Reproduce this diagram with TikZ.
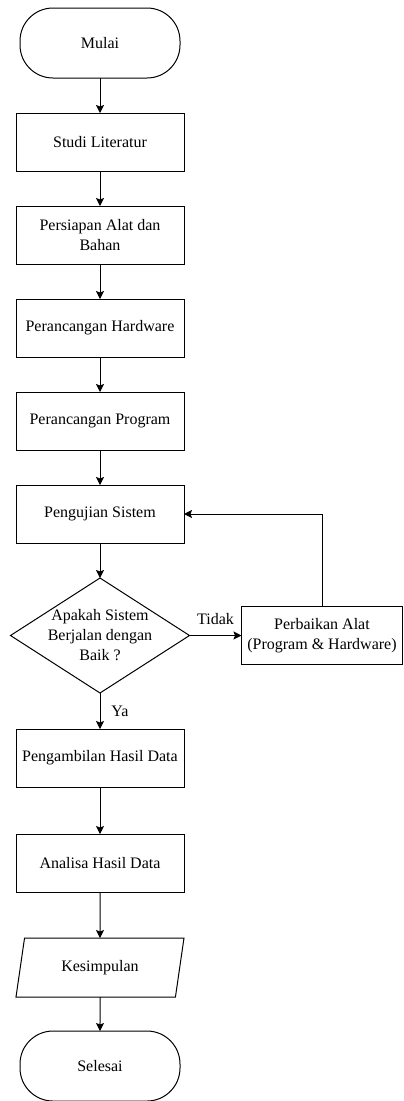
\documentclass[tikz,border=0pt]{standalone}
\usepackage{fontspec}
\setmainfont{Liberation Serif}
\usetikzlibrary{shapes.geometric, arrows.meta, positioning}
\tikzstyle{terminal} = [rectangle, 
			draw, 
			rounded corners=33pt, 
			text centered, 
			minimum width=160pt, 
			minimum height=70pt]
\tikzstyle{proses} = [rectangle, 
			draw, 
			align=center, 
			minimum width=168pt, 
			minimum height=58pt]
\tikzstyle{keputusan} = [diamond, 
			draw, 
			inner sep=0pt, 
			minimum width=179pt, 
			minimum height=115pt]
\tikzstyle{masukan} = [trapezium, 
			draw, 
			trapezium left angle=68, 
			trapezium right angle=112, 
			trapezium stretches body, 
			text centered, 
			minimum width=168pt, 
			minimum height=59pt]
\tikzstyle{panah} = [draw, -{Stealth[length=8pt, width=8pt, inset=1.5pt]}]

\begin{document}
\begin{tikzpicture}[x=1pt, y=-1pt, line width=1pt, outer sep=0pt, font=\fontsize{16}{20}\selectfont]
	\useasboundingbox (0,0) rectangle (404,1101);
	\node [terminal] (mulai) at (100,43) {Mulai};
	\node [proses, below=35pt of mulai] (studi) {Studi Literatur};
	\node [proses, below=35pt of studi] (persiapan) {Persiapan Alat dan\\Bahan};
	\node [proses, below=35pt of persiapan] (hardware) {Perancangan Hardware};
	\node [proses, below=35pt of hardware] (program) {Perancangan Program};
	\node [proses, below=35pt of program] (pengujian) {Pengujian Sistem};
	\node [keputusan, below=35pt of pengujian,
		label={[name=teks-cek, align=center]center:Apakah Sistem\\Berjalan dengan\\Baik ?}] (cek) {};
	\node [proses, right=52pt of cek, minimum width=161pt] (perbaikan) {Perbaikan Alat\\(Program \& Hardware)};
	\node [proses, below=36pt of cek] (pengambilan) {Pengambilan Hasil Data};
	\node [proses, below=47pt of pengambilan] (analisa) {Analisa Hasil Data};
	\node [masukan, below=46pt of analisa] (kesimpulan) {Kesimpulan};
	\node [terminal, below=34pt of kesimpulan] (selesai) {Selesai};

	\draw [panah] (mulai) -- (studi);
	\draw [panah] (studi) -- (persiapan);
	\draw [panah] (persiapan) -- (hardware);
	\draw [panah] (hardware) -- (program);
	\draw [panah] (program) -- (pengujian);
	\draw [panah] (pengujian) -- (cek);
	\draw [panah] (cek) -- node [above=8pt] (tidak) {Tidak} (perbaikan);
	\draw [panah] (perbaikan.north) |- (pengujian.east);
	\draw [panah] (cek) -- node [right=8pt] (ya) {Ya} (pengambilan);
	\draw [panah] (pengambilan) -- (analisa);
	\draw [panah] (analisa) -- (kesimpulan);
	\draw [panah] (kesimpulan) -- (selesai);
\end{tikzpicture}
\end{document}
